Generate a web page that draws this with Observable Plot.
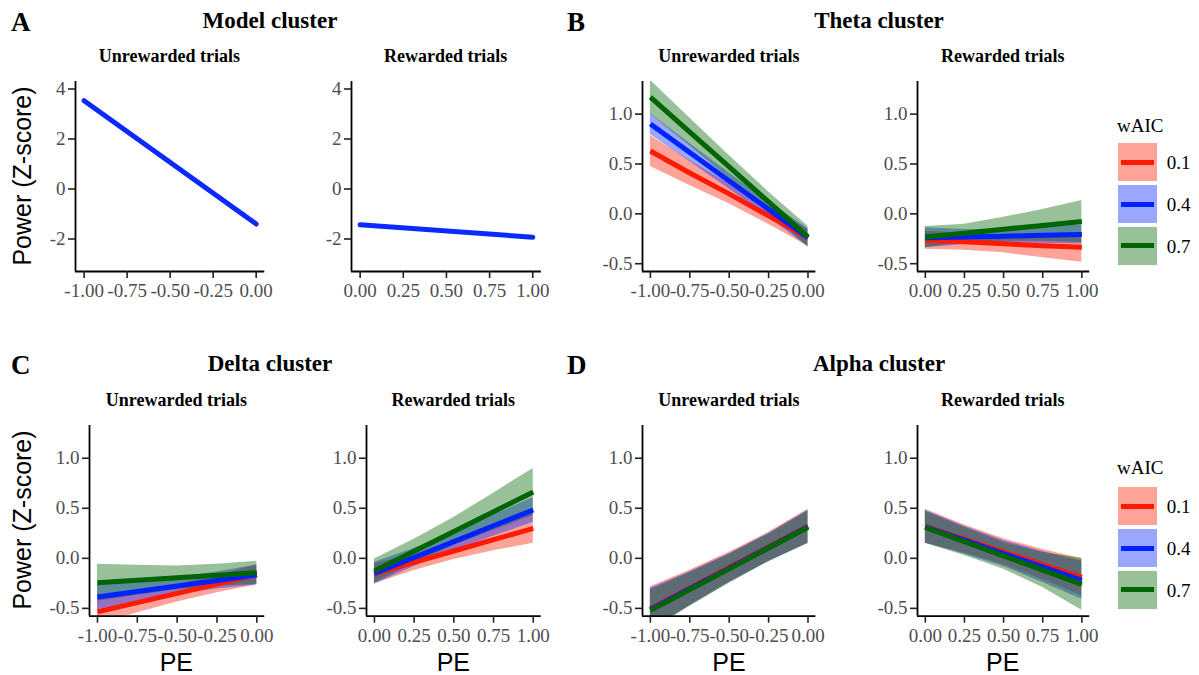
<!DOCTYPE html>
<html><head><meta charset="utf-8">
<script src="https://cdn.jsdelivr.net/npm/d3@7"></script>
<script src="https://cdn.jsdelivr.net/npm/@observablehq/plot@0.6"></script>
<style>
body{margin:0;background:#fff;}
#root{position:relative;width:1199px;height:675px;background:#fff;overflow:hidden;font-family:"Liberation Serif","Times New Roman",serif;}
.t{position:absolute;white-space:nowrap;line-height:1;}
svg{overflow:visible;}
#root svg text{font-size:19px !important;font-family:"Liberation Serif",serif !important;}
</style></head><body><div id="root"></div>
<script>
// ---------- data ----------
const waicLevels = ["0.1", "0.4", "0.7"];
const waicColors = ["#ff1a00", "#0022ff", "#006400"];

const xUnrewarded = [-1, -0.75, -0.5, -0.25, 0];
const xRewarded = [0, 0.25, 0.5, 0.75, 1];
const xTicksUnrewarded = [-1, -0.75, -0.5, -0.25, 0];
const xTicksRewarded = [0, 0.25, 0.5, 0.75, 1];
const yTicksModel = [-2, 0, 2, 4];
const yTicksCluster = [-0.5, 0, 0.5, 1];

// Model cluster (single fitted line)
const modelUnrewardedX = [-1, 0];
const modelUnrewardedY = [3.53, -1.40];
const modelRewardedX = [0, 1];
const modelRewardedY = [-1.43, -1.93];

// Theta cluster: fit and CI half-width per wAIC level
const thetaUnrewardedFit = [[0.63, 0.41, 0.20, -0.02, -0.24], [0.90, 0.615, 0.33, 0.045, -0.24], [1.17, 0.82, 0.47, 0.12, -0.23]];
const thetaUnrewardedHW = [[0.155, 0.125, 0.10, 0.085, 0.085], [0.105, 0.09, 0.08, 0.08, 0.09], [0.17, 0.14, 0.115, 0.10, 0.105]];
const thetaRewardedFit = [[-0.265, -0.28, -0.30, -0.32, -0.335], [-0.24, -0.232, -0.224, -0.215, -0.207], [-0.233, -0.194, -0.155, -0.116, -0.077]];
const thetaRewardedHW = [[0.09, 0.085, 0.09, 0.12, 0.15], [0.10, 0.075, 0.07, 0.08, 0.095], [0.106, 0.09, 0.12, 0.16, 0.21]];

// Delta cluster
const deltaUnrewardedFit = [[-0.535, -0.443, -0.35, -0.258, -0.165], [-0.387, -0.332, -0.276, -0.221, -0.165], [-0.244, -0.219, -0.194, -0.169, -0.144]];
const deltaUnrewardedHW = [[0.13, 0.10, 0.085, 0.085, 0.10], [0.13, 0.10, 0.085, 0.085, 0.10], [0.184, 0.15, 0.117, 0.11, 0.114]];
const deltaRewardedFit = [[-0.155, -0.041, 0.073, 0.186, 0.30], [-0.15, 0.008, 0.167, 0.325, 0.483], [-0.127, 0.07, 0.268, 0.466, 0.663]];
const deltaRewardedHW = [[0.10, 0.08, 0.085, 0.11, 0.15], [0.11, 0.09, 0.09, 0.105, 0.125], [0.12, 0.12, 0.14, 0.185, 0.235]];

// Alpha cluster
const alphaUnrewardedFit = [[-0.50, -0.295, -0.09, 0.115, 0.32], [-0.51, -0.304, -0.098, 0.108, 0.315], [-0.52, -0.3125, -0.105, 0.1025, 0.31]];
const alphaUnrewardedHW = [[0.215, 0.175, 0.15, 0.145, 0.17], [0.21, 0.17, 0.145, 0.14, 0.165], [0.205, 0.168, 0.143, 0.138, 0.163]];
const alphaRewardedFit = [[0.32, 0.1925, 0.065, -0.0625, -0.19], [0.315, 0.181, 0.048, -0.086, -0.22], [0.31, 0.1675, 0.025, -0.1175, -0.26]];
const alphaRewardedHW = [[0.17, 0.14, 0.13, 0.15, 0.185], [0.165, 0.14, 0.13, 0.155, 0.19], [0.16, 0.14, 0.135, 0.175, 0.26]];

// ---------- helpers ----------
function bandRows(xs, fits, hws) {
  const rows = [];
  fits.forEach((f, i) => f.forEach((v, j) => rows.push({x: xs[j], fit: v, lo: v - hws[i][j], hi: v + hws[i][j], s: waicLevels[i]})));
  return rows;
}

const root = document.getElementById("root");
function txt(s, x, y, css, anchor) {
  const d = document.createElement("div");
  d.className = "t";
  d.textContent = s;
  d.style.cssText += css;
  d.style.left = x + "px";
  d.style.top = y + "px";
  d.style.transform = anchor || "translate(-50%,-50%)";
  root.appendChild(d);
  return d;
}

const ML = 50, MR = 12, MT = 6, MB = 40;
const TICK_FONT = 19;
function panel({frame, xDomain, yDomain, xTicks, yTicks, yFmt, marks}) {
  const [x1, x2, y1, y2] = frame;
  const p = Plot.plot({
    width: (x2 - x1) + ML + MR,
    height: (y2 - y1) + MT + MB,
    marginLeft: ML, marginRight: MR, marginTop: MT, marginBottom: MB,
    style: {background: "transparent", fontFamily: "'Liberation Serif', serif", fontSize: TICK_FONT + "px", overflow: "visible"},
    x: {domain: xDomain},
    y: {domain: yDomain},
    color: {type: "ordinal", domain: waicLevels, range: waicColors},
    marks: [
      ...marks,
      Plot.ruleX([xDomain[0]], {stroke: "#000", strokeWidth: 1.8}),
      Plot.ruleY([yDomain[0]], {stroke: "#000", strokeWidth: 1.8}),
      Plot.axisX(xTicks, {label: null, tickSize: 7, tickPadding: 5, tickFormat: d => d.toFixed(2), fontSize: TICK_FONT, stroke: "#222", fill: "#4d4d4d", strokeWidth: 1.6}),
      Plot.axisY(yTicks, {label: null, tickSize: 7, tickPadding: 3, tickFormat: yFmt, fontSize: TICK_FONT, stroke: "#222", fill: "#4d4d4d", strokeWidth: 1.6})
    ]
  });
  p.style.position = "absolute";
  p.style.left = (x1 - ML) + "px";
  p.style.top = (y1 - MT) + "px";
  root.appendChild(p);
}

function bandMarks(rows) {
  return [
    Plot.areaY(rows, {x: "x", y1: "lo", y2: "hi", fill: "s", z: "s", fillOpacity: 0.4, clip: true}),
    Plot.lineY(rows, {x: "x", y: "fit", stroke: "s", z: "s", strokeWidth: 5, strokeLinecap: "butt", clip: true})
  ];
}

const domU = [-1.05, 0.05], domR = [-0.05, 1.05];
const domModel = [-3.3, 4.3], domCluster = [-0.578, 1.327];
const fmt1 = d => d.toFixed(1);
const fmt0 = d => String(d);

// frames: [left, right, top, bottom] in page pixels
const topY = [80.7, 270.7], botY = [425, 615.7];
const fAL = [74.7, 264, ...topY], fAR = [350.7, 540.6, ...topY];
const fBL = [642.2, 815.6, ...topY], fBR = [916.6, 1088.8, ...topY];
const fCL = [88.7, 264, ...botY], fCR = [366, 540.7, ...botY];
const fDL = [642.2, 815.6, ...botY], fDR = [916.6, 1088.8, ...botY];

// A: Model cluster
const modelU = modelUnrewardedX.map((x, i) => ({x, y: modelUnrewardedY[i]}));
const modelR = modelRewardedX.map((x, i) => ({x, y: modelRewardedY[i]}));
panel({frame: fAL, xDomain: domU, yDomain: domModel, xTicks: xTicksUnrewarded, yTicks: yTicksModel, yFmt: fmt0,
  marks: [Plot.lineY(modelU, {x: "x", y: "y", stroke: "#0a2aff", strokeWidth: 5})]});
panel({frame: fAR, xDomain: domR, yDomain: domModel, xTicks: xTicksRewarded, yTicks: yTicksModel, yFmt: fmt0,
  marks: [Plot.lineY(modelR, {x: "x", y: "y", stroke: "#0a2aff", strokeWidth: 5})]});

// B: Theta
panel({frame: fBL, xDomain: domU, yDomain: domCluster, xTicks: xTicksUnrewarded, yTicks: yTicksCluster, yFmt: fmt1,
  marks: bandMarks(bandRows(xUnrewarded, thetaUnrewardedFit, thetaUnrewardedHW))});
panel({frame: fBR, xDomain: domR, yDomain: domCluster, xTicks: xTicksRewarded, yTicks: yTicksCluster, yFmt: fmt1,
  marks: bandMarks(bandRows(xRewarded, thetaRewardedFit, thetaRewardedHW))});
// C: Delta
panel({frame: fCL, xDomain: domU, yDomain: domCluster, xTicks: xTicksUnrewarded, yTicks: yTicksCluster, yFmt: fmt1,
  marks: bandMarks(bandRows(xUnrewarded, deltaUnrewardedFit, deltaUnrewardedHW))});
panel({frame: fCR, xDomain: domR, yDomain: domCluster, xTicks: xTicksRewarded, yTicks: yTicksCluster, yFmt: fmt1,
  marks: bandMarks(bandRows(xRewarded, deltaRewardedFit, deltaRewardedHW))});
// D: Alpha
panel({frame: fDL, xDomain: domU, yDomain: domCluster, xTicks: xTicksUnrewarded, yTicks: yTicksCluster, yFmt: fmt1,
  marks: bandMarks(bandRows(xUnrewarded, alphaUnrewardedFit, alphaUnrewardedHW))});
panel({frame: fDR, xDomain: domR, yDomain: domCluster, xTicks: xTicksRewarded, yTicks: yTicksCluster, yFmt: fmt1,
  marks: bandMarks(bandRows(xRewarded, alphaRewardedFit, alphaRewardedHW))});

// ---------- text ----------
const bold = "font-weight:bold;color:#000;";
const letterCss = bold + "font-size:27px;";
txt("A", 11, 22, letterCss, "translate(0,-50%)");
txt("B", 567, 22, letterCss, "translate(0,-50%)");
txt("C", 11, 365, letterCss, "translate(0,-50%)");
txt("D", 567, 365, letterCss, "translate(0,-50%)");

const titleCss = bold + "font-size:23px;";
txt("Model cluster", 270, 20, titleCss);
txt("Theta cluster", 879, 20, titleCss);
txt("Delta cluster", 270, 363, titleCss);
txt("Alpha cluster", 879, 363, titleCss);

const subCss = bold + "font-size:18px;";
const mid = f => (f[0] + f[1]) / 2;
txt("Unrewarded trials", mid(fAL), 56, subCss);
txt("Rewarded trials", mid(fAR), 56, subCss);
txt("Unrewarded trials", mid(fBL), 56, subCss);
txt("Rewarded trials", mid(fBR), 56, subCss);
txt("Unrewarded trials", mid(fCL), 400, subCss);
txt("Rewarded trials", mid(fCR), 400, subCss);
txt("Unrewarded trials", mid(fDL), 400, subCss);
txt("Rewarded trials", mid(fDR), 400, subCss);

const sansCss = "font-family:'Liberation Sans',Arial,sans-serif;font-size:25px;color:#000;";
txt("Power (Z-score)", 22, (topY[0] + topY[1]) / 2, sansCss, "translate(-50%,-50%) rotate(-90deg)");
txt("Power (Z-score)", 22, (botY[0] + botY[1]) / 2, sansCss, "translate(-50%,-50%) rotate(-90deg)");
[fCL, fCR, fDL, fDR].forEach(f => txt("PE", mid(f), 662, sansCss));

// ---------- legends ----------
function legend(titleY, keyTops) {
  txt("wAIC", 1117, titleY, "font-size:19px;color:#000;", "translate(0,-50%)");
  waicLevels.forEach((lv, i) => {
    const k = document.createElement("div");
    k.style.cssText = `position:absolute;left:1118.3px;top:${keyTops[i]}px;width:38.4px;height:38px;background:${waicColors[i]};opacity:0.4;`;
    root.appendChild(k);
    const l = document.createElement("div");
    l.style.cssText = `position:absolute;left:1120.7px;top:${keyTops[i] + 16.5}px;width:33.3px;height:5px;background:${waicColors[i]};`;
    root.appendChild(l);
    txt(lv, 1166.7, keyTops[i] + 19, "font-size:19px;color:#000;", "translate(0,-50%)");
  });
}
legend(125, [143.3, 185, 226.7]);
legend(466.7, [487.3, 529, 570.7]);
</script></body></html>
